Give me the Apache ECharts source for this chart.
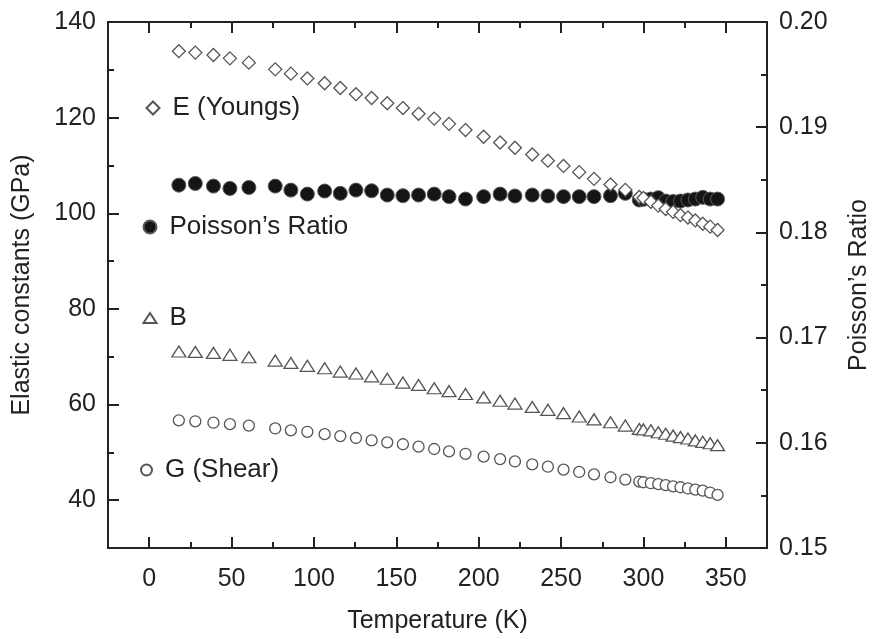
<!DOCTYPE html>
<html>
<head>
<meta charset="utf-8">
<script src="https://cdn.jsdelivr.net/npm/echarts@6/dist/echarts.min.js"></script>
<style>
html,body{margin:0;padding:0;background:#fff;}
#chart{width:881px;height:639px;}
</style>
</head>
<body>
<div id="chart"></div>
<script>
// Temperature (K) of each measurement
var temperature = [18, 28, 39, 49, 60.5, 76.5, 86, 96, 106.5, 116, 125.5, 135, 144.5, 154, 163.5, 173, 182, 192, 203, 213, 222, 232.5, 242, 251.5, 261, 270, 280, 289,
  297.5, 300, 304.5, 309, 313.5, 318, 322.5, 327, 331.5, 336, 340.5, 345];
// E (Youngs), GPa
var youngs = [133.9, 133.6, 133.1, 132.4, 131.5, 130.1, 129.2, 128.2, 127.2, 126.2, 124.9, 124.1, 123.0, 122.0, 120.8, 119.8, 118.7, 117.4, 116.0, 114.8, 113.7, 112.3, 111.0, 109.9, 108.6, 107.2, 106.0, 104.9,
  103.4, 103.2, 102.4, 101.6, 100.9, 100.3, 99.6, 99.1, 98.5, 97.8, 97.2, 96.5];
// Poisson's ratio (right axis)
var poisson = [0.18449, 0.18465, 0.18440, 0.18418, 0.18427, 0.18440, 0.18402, 0.18364, 0.18393, 0.18371, 0.18402, 0.18396, 0.18355,
  0.18349, 0.18355, 0.18364, 0.18340, 0.18317, 0.18340, 0.18364, 0.18346, 0.18355, 0.18346, 0.18340, 0.18340, 0.18340, 0.18349, 0.18371,
  0.18308, 0.18314, 0.18317, 0.18330, 0.18298, 0.18293, 0.18298, 0.18308, 0.18317, 0.18333, 0.18317, 0.18317];
// B (bulk), GPa
var bulk = [71.1, 71.0, 70.8, 70.4, 69.9, 69.2, 68.7, 68.1, 67.6, 66.9, 66.5, 65.9, 65.4, 64.6, 64.1, 63.4, 62.8, 62.2, 61.5, 60.8, 60.2, 59.5, 58.9, 58.2, 57.5, 56.9, 56.3, 55.6,
  54.9, 54.8, 54.6, 54.2, 53.9, 53.5, 53.2, 52.9, 52.5, 52.2, 51.9, 51.5];
// G (Shear), GPa
var shear = [56.7, 56.5, 56.2, 55.9, 55.6, 55.0, 54.6, 54.3, 53.8, 53.4, 53.0, 52.5, 52.1, 51.7, 51.2, 50.7, 50.2, 49.7, 49.1, 48.6, 48.1, 47.5, 47.0, 46.4, 45.9, 45.4, 44.8, 44.3,
  43.9, 43.75, 43.55, 43.35, 43.15, 42.9, 42.7, 42.45, 42.2, 42.0, 41.6, 41.1];

// tick values
var xMajorTicks = [0, 50, 100, 150, 200, 250, 300, 350];
var xMinorTicks = [25, 75, 125, 175, 225, 275, 325];
var yLeftMajorTicks = [40, 60, 80, 100, 120, 140];
var yLeftMinorTicks = [50, 70, 90, 110, 130];
var yRightMajorTicks = [0.15, 0.16, 0.17, 0.18, 0.19, 0.20];
var yRightMinorTicks = [0.155, 0.165, 0.175, 0.185, 0.195];

var FONT = 'Liberation Sans';
var AX = '#222';
var MK = '#555';

function pairs(ys) { return temperature.map(function (t, i) { return [t, ys[i]]; }); }

function tickAxis(base, ticks, len, showLine, extra) {
  var o = Object.assign({
    type: 'value',
    axisLine: { show: showLine, onZero: false, lineStyle: { color: AX, width: 2 } },
    axisTick: { show: true, inside: true, length: len, customValues: ticks, lineStyle: { color: AX, width: 2 } },
    axisLabel: { show: false },
    splitLine: { show: false }
  }, base);
  if (extra) Object.assign(o, extra);
  return o;
}

var labelStyle = { fontFamily: FONT, fontSize: 25, color: AX };

var chart = echarts.init(document.getElementById('chart'), null, { renderer: 'canvas' });

function legendAt(name, icon, w, h, left, top) {
  return {
    show: true,
    data: [{ name: name, icon: icon }],
    left: left, top: top,
    padding: 0,
    orient: 'horizontal',
    itemWidth: w, itemHeight: h,
    selectedMode: false,
    textStyle: { fontFamily: FONT, fontSize: 26, color: AX, padding: [0, 0, 0, 8] }
  };
}

chart.setOption({
  animation: false,
  backgroundColor: '#fff',
  grid: { left: 108, top: 22, width: 659, height: 531, containLabel: false },
  legend: [
    legendAt('E (Youngs)', 'diamond', 13, 13, 145.5, 95),
    legendAt('Poisson\u2019s Ratio', 'circle', 13, 13, 142.5, 214),
    legendAt('B', 'triangle', 13, 10, 142.5, 305),
    legendAt('G (Shear)', 'circle', 11, 11, 140, 457)
  ],
  xAxis: [
    tickAxis({ min: -25, max: 375, position: 'bottom' }, xMajorTicks, 11, true, {
      axisLabel: Object.assign({ show: true, margin: 19, customValues: xMajorTicks }, labelStyle),
      name: 'Temperature (K)', nameLocation: 'middle', nameGap: 61,
      nameTextStyle: { fontFamily: FONT, fontSize: 25, color: AX }
    }),
    tickAxis({ min: -25, max: 375, position: 'bottom' }, xMinorTicks, 6, false),
    tickAxis({ min: -25, max: 375, position: 'top' }, xMajorTicks, 11, true),
    tickAxis({ min: -25, max: 375, position: 'top' }, xMinorTicks, 6, false)
  ],
  yAxis: [
    tickAxis({ min: 30, max: 140, position: 'left' }, yLeftMajorTicks, 11, true, {
      axisLabel: Object.assign({ show: true, margin: 12, customValues: yLeftMajorTicks }, labelStyle),
      name: 'Elastic constants (GPa)', nameLocation: 'middle', nameGap: 73, nameRotate: 90,
      nameTextStyle: { fontFamily: FONT, fontSize: 25, color: AX }
    }),
    tickAxis({ min: 0.15, max: 0.20, position: 'right' }, yRightMajorTicks, 11, true, {
      axisLabel: Object.assign({ show: true, margin: 12, customValues: yRightMajorTicks,
        formatter: function (v) { return v.toFixed(2); } }, labelStyle),
      name: 'Poisson\u2019s Ratio', nameLocation: 'middle', nameGap: 80, nameRotate: 90,
      nameTextStyle: { fontFamily: FONT, fontSize: 25, color: AX }
    }),
    tickAxis({ min: 30, max: 140, position: 'left' }, yLeftMinorTicks, 6, false),
    tickAxis({ min: 0.15, max: 0.20, position: 'right' }, yRightMinorTicks, 6, false)
  ],
  series: [
    {
      name: 'Poisson\u2019s Ratio', type: 'scatter', xAxisIndex: 0, yAxisIndex: 1,
      symbol: 'circle', symbolSize: 14,
      itemStyle: { color: '#151515', borderColor: '#5a5a5a', borderWidth: 1, opacity: 1 },
      data: pairs(poisson), z: 2
    },
    {
      name: 'E (Youngs)', type: 'scatter', xAxisIndex: 0, yAxisIndex: 0,
      symbol: 'diamond', symbolSize: 13,
      itemStyle: { color: '#fff', borderColor: MK, borderWidth: 1.3, opacity: 1 },
      data: pairs(youngs), z: 3
    },
    {
      name: 'B', type: 'scatter', xAxisIndex: 0, yAxisIndex: 0,
      symbol: 'triangle', symbolSize: [14, 11],
      itemStyle: { color: '#fff', borderColor: MK, borderWidth: 1.3, opacity: 1 },
      data: pairs(bulk), z: 3
    },
    {
      name: 'G (Shear)', type: 'scatter', xAxisIndex: 0, yAxisIndex: 0,
      symbol: 'circle', symbolSize: 11,
      itemStyle: { color: '#fff', borderColor: MK, borderWidth: 1.3, opacity: 1 },
      data: pairs(shear), z: 3
    }
  ]
});
</script>
</body>
</html>
